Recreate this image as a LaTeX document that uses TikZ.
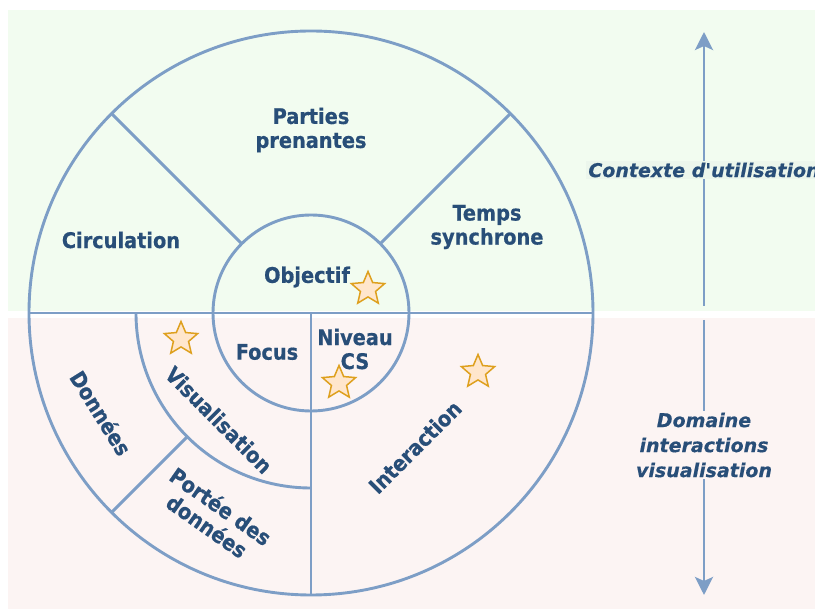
\documentclass[tikz,border=0pt]{standalone}
\usepackage{fontspec}
\usetikzlibrary{shapes.geometric,arrows.meta,calc}
\newfontfamily\labfont{DejaVu Sans Condensed}[BoldFeatures={FakeBold=0.6}]
\newfontfamily\sidefont{DejaVu Sans}[BoldItalicFeatures={FakeBold=0.4}]
\definecolor{linec}{RGB}{125,158,198}
\definecolor{textc}{RGB}{40,78,120}
\definecolor{greenbg}{RGB}{242,252,240}
\definecolor{pinkbg}{RGB}{252,244,243}
\definecolor{greenlab}{RGB}{236,246,236}
\definecolor{starfill}{RGB}{255,230,204}
\definecolor{starline}{RGB}{222,160,30}
\tikzset{
  ring/.style={draw=linec, line width=2.9pt},
  lab/.style={font=\labfont\bfseries\fontsize{21.5}{24}\selectfont, text=textc, align=center, inner sep=0pt},
  side/.style={font=\sidefont\bfseries\itshape\fontsize{19}{25}\selectfont, text=textc, align=center, inner sep=2pt},
  arr/.style={draw=linec, line width=2.9pt, -{Stealth[length=18pt,width=18pt,inset=4pt]}},
  starmark/.style={star, star points=5, star point ratio=2.2, minimum size=35pt, inner sep=0pt,
    draw=starline, fill=starfill, line width=1.5pt}
}
\begin{document}
\begin{tikzpicture}[x=1pt,y=1pt]
\useasboundingbox (0,0) rectangle (815,611);
% bands
\fill[greenbg] (8,300) rectangle (815,601);
\fill[pinkbg] (8,2) rectangle (815,293);
% rings
\coordinate (C) at (311,298);
\draw[ring] (C) circle[radius=282];
\draw[ring] (C) circle[radius=98];
\draw[ring] ($(C)+(-282,0)$) -- ($(C)+(282,0)$);
\draw[ring] (C) -- ($(C)+(0,-282)$);
\draw[ring] ($(C)+(45:98)$) -- ($(C)+(45:282)$);
\draw[ring] ($(C)+(135:98)$) -- ($(C)+(135:282)$);
\draw[ring] ($(C)+(180:175)$) arc[start angle=180, end angle=270, radius=175];
\draw[ring] ($(C)+(225:175)$) -- ($(C)+(225:282)$);
% labels
\node[lab] (pp) at (311,481) {Parties\\prenantes};
\node[lab] (circ) at (121,371) {Circulation};
\node[lab] (ts) at (487,384) {Temps\\synchrone};
\node[lab] (obj) at (307,334) {Objectif};
\node[lab] (foc) at (267,259) {Focus};
\node[lab] (niv) at (355,262) {Niveau\\CS};
\node[lab, rotate=-58] (don) at (101,198) {Données};
\node[lab, rotate=-45] (vis) at (219,191) {Visualisation};
\node[lab, rotate=45] (inter) at (415,164) {Interaction};
\node[lab, rotate=-35] (port) at (214,95) {Portée des\\données};
% stars
\node[starmark] (s1) at (368,322) {};
\node[starmark] (s2) at (181,272) {};
\node[starmark] (s3) at (339,228) {};
\node[starmark] (s4) at (478,239) {};
% side arrows
\coordinate (upA) at (704,305);
\coordinate (upB) at (704,579);
\coordinate (dnA) at (704,291);
\coordinate (dnB) at (704,16);
\draw[arr] (upA) -- (upB);
\draw[arr] (dnA) -- (dnB);
\node[side, fill=greenlab] (ctx) at (704,441) {Contexte d\textquotesingle utilisation};
\node[side, fill=pinkbg] (dom) at (704,166) {Domaine\\interactions\\visualisation};
\end{tikzpicture}
\end{document}
